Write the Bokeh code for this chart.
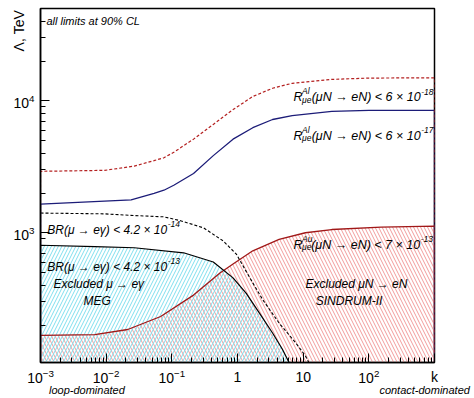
import math
from bokeh.plotting import figure
from bokeh.models import Label, LogTicker, Range1d, LogAxis, FixedTicker, CustomJSTickFormatter
from bokeh.embed import file_html
from bokeh.resources import INLINE

# ---------------- data ----------------
X_MIN, X_MAX = 1e-3, 1e3
Y_BOT, Y_TOP = 104, 5e4

# R^Al < 6e-18 (red dashed)
K_AL18 = [0.001, 0.0095, 0.0268, 0.0536, 0.0758, 0.107, 0.214, 0.428, 0.855, 1.71, 3.42, 6.8, 27.3, 100, 1000]
L_AL18 = [2920, 2970, 3200, 3520, 3700, 4070, 5120, 6620, 8570, 10770, 12440, 13560, 14520, 14850, 14930]

# R^Al < 6e-17 (navy solid)
K_AL17 = [0.001, 0.024, 0.0536, 0.0758, 0.107, 0.214, 0.428, 0.855, 1.71, 3.42, 6.8, 27.3, 100, 1000]
L_AL17 = [1645, 1772, 1990, 2100, 2290, 2810, 3840, 5120, 6250, 7210, 7720, 8320, 8450, 8470]

# BR(mu->e gamma) < 4.2e-14 (black dashed)
K_BR14 = [0.001, 0.0095, 0.0268, 0.0758, 0.135, 0.303, 0.605, 0.96, 1.52, 2.42, 4.3, 7.66, 10.8, 12.2]
L_BR14 = [1410, 1390, 1350, 1320, 1235, 1090, 867, 689, 461, 311, 207, 147, 117, 104]

# BR(mu->e gamma) < 4.2e-13 (black solid, MEG excluded region)
K_BR13 = [0.001, 0.0067, 0.0268, 0.151, 0.428, 0.855, 1.36, 2.16, 3.42, 4.83, 6.1]
L_BR13 = [804, 785, 770, 705, 600, 455, 347, 246, 174, 131, 104]

# R^Au < 7e-13 (dark red solid, SINDRUM-II excluded region)
K_AU = [0.001, 0.0067, 0.0213, 0.0676, 0.214, 0.54, 0.855, 1.71, 4.3, 10.8, 27.3, 154, 1000]
L_AU = [167, 169, 185, 232, 337, 495, 580, 730, 891, 1000, 1058, 1103, 1122]

X_TICK_LABELS = {1: "1", 10: "10", 1000: "k"}
X_NOTES = ["loop-dominated", "contact-dominated"]
Y_TITLE = ["Λ, TeV"]

FONT = "Liberation Sans"


def px2x(px):
    return 10 ** ((px - 35) / 66.5 - 3)


def py2y(py):
    return 10 ** (3 - (py - 235) / 134)


p = figure(width=474, height=398, x_axis_type="log", y_axis_type="log",
           x_range=Range1d(X_MIN, X_MAX), y_range=Range1d(Y_BOT, Y_TOP),
           output_backend="svg", toolbar_location=None,
           min_border_left=35, min_border_right=40, min_border_top=8, min_border_bottom=31)
p.title.visible = False
p.background_fill_color = "white"
p.border_fill_color = "white"
p.outline_line_color = "black"
p.outline_line_width = 1.5
p.xgrid.visible = False
p.ygrid.visible = False

for ax in (p.xaxis[0], p.yaxis[0]):
    ax.major_tick_in = 9
    ax.major_tick_out = 0
    ax.minor_tick_in = 5
    ax.minor_tick_out = 0
    ax.axis_line_width = 1.5
    ax.major_tick_line_color = "black"
    ax.minor_tick_line_color = "black"
    ax.major_label_text_font = FONT
    ax.major_label_text_font_size = "14px"
    ax.major_label_text_color = "black"
p.xaxis[0].ticker = LogTicker(num_minor_ticks=10)
p.yaxis[0].ticker = LogTicker(num_minor_ticks=10)
p.xaxis[0].major_label_standoff = 6
p.yaxis[0].major_label_standoff = 6
p.xaxis[0].major_label_overrides = X_TICK_LABELS

# y title: second left axis whose single tick label sits in the tick-label column
title_axis = LogAxis(ticker=FixedTicker(ticks=[py2y(9)], minor_ticks=[]),
                     formatter=CustomJSTickFormatter(args=dict(t=Y_TITLE), code="return t[index]"),
                     axis_line_color=None, major_tick_line_color=None,
                     minor_tick_line_color=None, major_label_standoff=-15,
                     major_label_orientation=math.pi / 2,
                     major_label_text_font=FONT, major_label_text_font_size="14px",
                     major_label_text_color="black")
p.add_layout(title_axis, "left")

# second bottom axis carrying the two side notes
notes_axis = LogAxis(ticker=FixedTicker(ticks=[px2x(82), px2x(424)], minor_ticks=[]),
                     formatter=CustomJSTickFormatter(args=dict(notes=X_NOTES),
                                                     code="return notes[index]"),
                     axis_line_color=None, major_tick_line_color=None,
                     minor_tick_line_color=None, major_label_standoff=-10,
                     major_label_text_font=FONT, major_label_text_font_size="11px",
                     major_label_text_font_style="italic", major_label_text_color="black")
p.add_layout(notes_axis, "below")


def closed(xs, ys):
    return [xs[0]] + list(xs) + [xs[-1]], [Y_BOT] + list(ys) + [Y_BOT]


# hatched excluded regions
p.varea(x=K_AU, y1=[Y_BOT] * len(K_AU), y2=L_AU, fill_alpha=0,
        hatch_pattern="\\", hatch_color="#f29c9c", hatch_scale=7, hatch_weight=1)
p.varea(x=K_BR13, y1=[Y_BOT] * len(K_BR13), y2=L_BR13, fill_alpha=0,
        hatch_pattern="/", hatch_color="#7fdfee", hatch_scale=7, hatch_weight=1)

# curves
xs, ys = closed(K_AU, L_AU)
p.line(xs, ys, line_color="#a01818", line_width=1.3)
p.line(K_BR13, L_BR13, line_color="black", line_width=1.2)
p.line(K_BR14, L_BR14, line_color="black", line_width=1.1, line_dash="3 2")
xs, ys = closed(K_AL17, L_AL17)
p.line(xs, ys, line_color="#1c1c78", line_width=1.3)
xs, ys = closed(K_AL18, L_AL18)
p.line(xs, ys, line_color="#b42020", line_width=1.2, line_dash="3 2")


# ---------------- texts inside the frame ----------------
def lab(x, y, text, size, align="left", baseline="alphabetic", xo=0, yo=0,
        style="italic", angle=0):
    p.add_layout(Label(x=x, y=y, text=text, text_font=FONT, text_font_size=f"{size}px",
                       text_font_style=style, text_align=align, text_baseline=baseline,
                       x_offset=xo, y_offset=yo, angle=angle, text_color="black"))


def r_label(end_px, base_py, nucleus, main, expo):
    x, y = px2x(end_px), py2y(base_py)
    lab(x, y, "R", 12.5, xo=-(end_px - 292.7))
    lab(x, y, nucleus, 8.5, xo=-(end_px - 301.4), yo=6)
    lab(x, y, "μe", 8.5, xo=-(end_px - 301.4), yo=-2.5)
    lab(x, y, main, 12.5, align="right")
    lab(x, y, expo, 8.5, xo=0.5, yo=5.5)


def br_label(end_px, base_py, expo):
    x, y = px2x(end_px), py2y(base_py)
    lab(x, y, "BR(μ → eγ) < 4.2 × 10", 12, align="right")
    lab(x, y, expo, 8.5, xo=0.5, yo=5.5)


r_label(420, 97.3, "Al", "(μN → eN) < 6 × 10", "-18")
r_label(420, 136.7, "Al", "(μN → eN) < 6 × 10", "-17")
r_label(419.5, 247.3, "Au", "(μN → eN) < 7 × 10", "-13")
br_label(163.3, 231.7, "-14")
br_label(163.3, 269.3, "-13")

lab(px2x(94), py2y(287.3), "Excluded μ → eγ", 12, align="center")
lab(px2x(92.5), py2y(304), "MEG", 12, align="center")
lab(px2x(355), py2y(287.3), "Excluded μN → eN", 12, align="center")
lab(px2x(347.5), py2y(304), "SINDRUM-II", 12, align="center")
lab(px2x(41), py2y(20), "all limits at 90% CL", 11)

open("out.html", "w").write(file_html(p, INLINE))
